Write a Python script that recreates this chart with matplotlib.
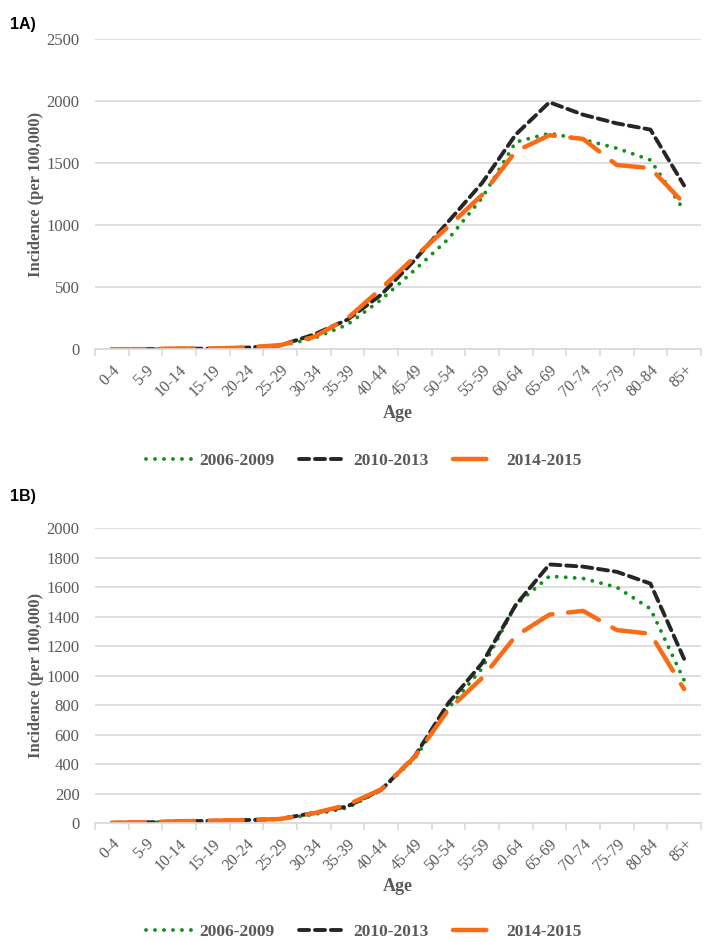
import matplotlib
matplotlib.use("Agg")
import matplotlib.pyplot as plt

ages = ["0-4", "5-9", "10-14", "15-19", "20-24", "25-29", "30-34", "35-39",
        "40-44", "45-49", "50-54", "55-59", "60-64", "65-69", "70-74",
        "75-79", "80-84", "85+"]
periods = ["2006-2009", "2010-2013", "2014-2015"]

# panel 1A
a_2006 = [1, 2, 5, 6, 12, 30, 90, 200, 400, 640, 890, 1220, 1670, 1740, 1690, 1620, 1525, 1120]
a_2010 = [1, 3, 6, 7, 15, 32, 120, 240, 440, 720, 1030, 1340, 1730, 1990, 1890, 1820, 1770, 1320]
a_2014 = [2, 3, 8, 8, 16, 35, 100, 250, 490, 745, 990, 1245, 1595, 1725, 1695, 1485, 1460, 1175]

# panel 1B
b_2006 = [3, 5, 12, 16, 20, 28, 60, 105, 225, 440, 780, 1050, 1480, 1675, 1660, 1600, 1455, 970]
b_2010 = [3, 6, 13, 17, 22, 30, 70, 115, 226, 455, 815, 1085, 1480, 1755, 1740, 1705, 1625, 1115]
b_2014 = [4, 7, 14, 18, 22, 29, 68, 125, 230, 450, 770, 985, 1270, 1415, 1440, 1310, 1285, 910]

grey = "#595959"
styles = [
    dict(color="#14901a", lw=2.8, linestyle=(0, (0.01, 2.3)), dash_capstyle="round"),
    dict(color="#262626", lw=2.8, linestyle=(0, (2.6, 1.5)), dash_capstyle="round"),
    dict(color="#fb6a14", lw=3.2, linestyle=(0, (7.5, 3.5)), dash_capstyle="round"),
]

fig = plt.figure(figsize=(7.08, 9.42), dpi=100)
serif = "Liberation Serif"


def draw(ax, series, ymax, step, age_y):
    x = range(len(ages))
    lines = []
    for vals, st, lab in zip(series, styles, periods):
        ln, = ax.plot(x, vals, label=lab, **st)
        lines.append(ln)
    ax.set_xlim(-0.5, len(ages) - 0.5)
    ax.set_ylim(0, ymax)
    ax.set_yticks(range(0, ymax + 1, step))
    ax.grid(axis="y", color="#d9d9d9", lw=1.2)
    ax.set_axisbelow(True)
    for s in ["top", "right", "left"]:
        ax.spines[s].set_visible(False)
    ax.spines["bottom"].set_color("#d9d9d9")
    ax.spines["bottom"].set_linewidth(1.2)
    ax.set_xticks(list(x))
    ax.set_xticklabels(ages, rotation=45, ha="right", rotation_mode="anchor",
                       family=serif, fontsize=11.5, color=grey)
    ax.set_xticks([i - 0.5 for i in range(len(ages) + 1)], minor=True)
    ax.tick_params(axis="x", which="major", length=0, pad=9)
    ax.tick_params(axis="x", which="minor", length=5, color="#d9d9d9", width=1.2)
    ax.tick_params(axis="y", length=0, pad=11)
    for t in ax.get_yticklabels():
        t.set_family(serif)
        t.set_fontsize(12)
        t.set_color(grey)
    ax.set_ylabel("Incidence (per 100,000)", family=serif, fontsize=12,
                  fontweight="bold", color=grey)
    ax.yaxis.set_label_coords(-0.084, 0.5)
    ax.set_xlabel("Age", family=serif, fontsize=13, fontweight="bold", color=grey,
                  va="center")
    ax.xaxis.set_label_coords(0.5, age_y)
    return lines


axA = fig.add_axes([0.134, 0.629, 0.856, 0.3297])
linesA = draw(axA, [a_2006, a_2010, a_2014], 2500, 500, -0.205)
axB = fig.add_axes([0.134, 0.126, 0.856, 0.3132])
linesB = draw(axB, [b_2006, b_2010, b_2014], 2000, 200, -0.215)

legprops = dict(family=serif, size=12.5, weight="bold")
for lines, y in [(linesA, 1 - 461 / 942), (linesB, 1 - 932 / 942)]:
    leg = fig.legend(handles=lines, labels=periods, loc="center",
                     bbox_to_anchor=(0.514, y), ncol=3, frameon=False,
                     prop=legprops, handlelength=2.7, columnspacing=1.4,
                     handletextpad=0.4)
    for t in leg.get_texts():
        t.set_color(grey)

fig.text(0.014, 1 - 25 / 942, "1A)", fontsize=11.5, fontweight="bold",
         family="Liberation Sans", va="center")
fig.text(0.014, 1 - 497 / 942, "1B)", fontsize=11.5, fontweight="bold",
         family="Liberation Sans", va="center")

fig.savefig("out.png", dpi=100)
